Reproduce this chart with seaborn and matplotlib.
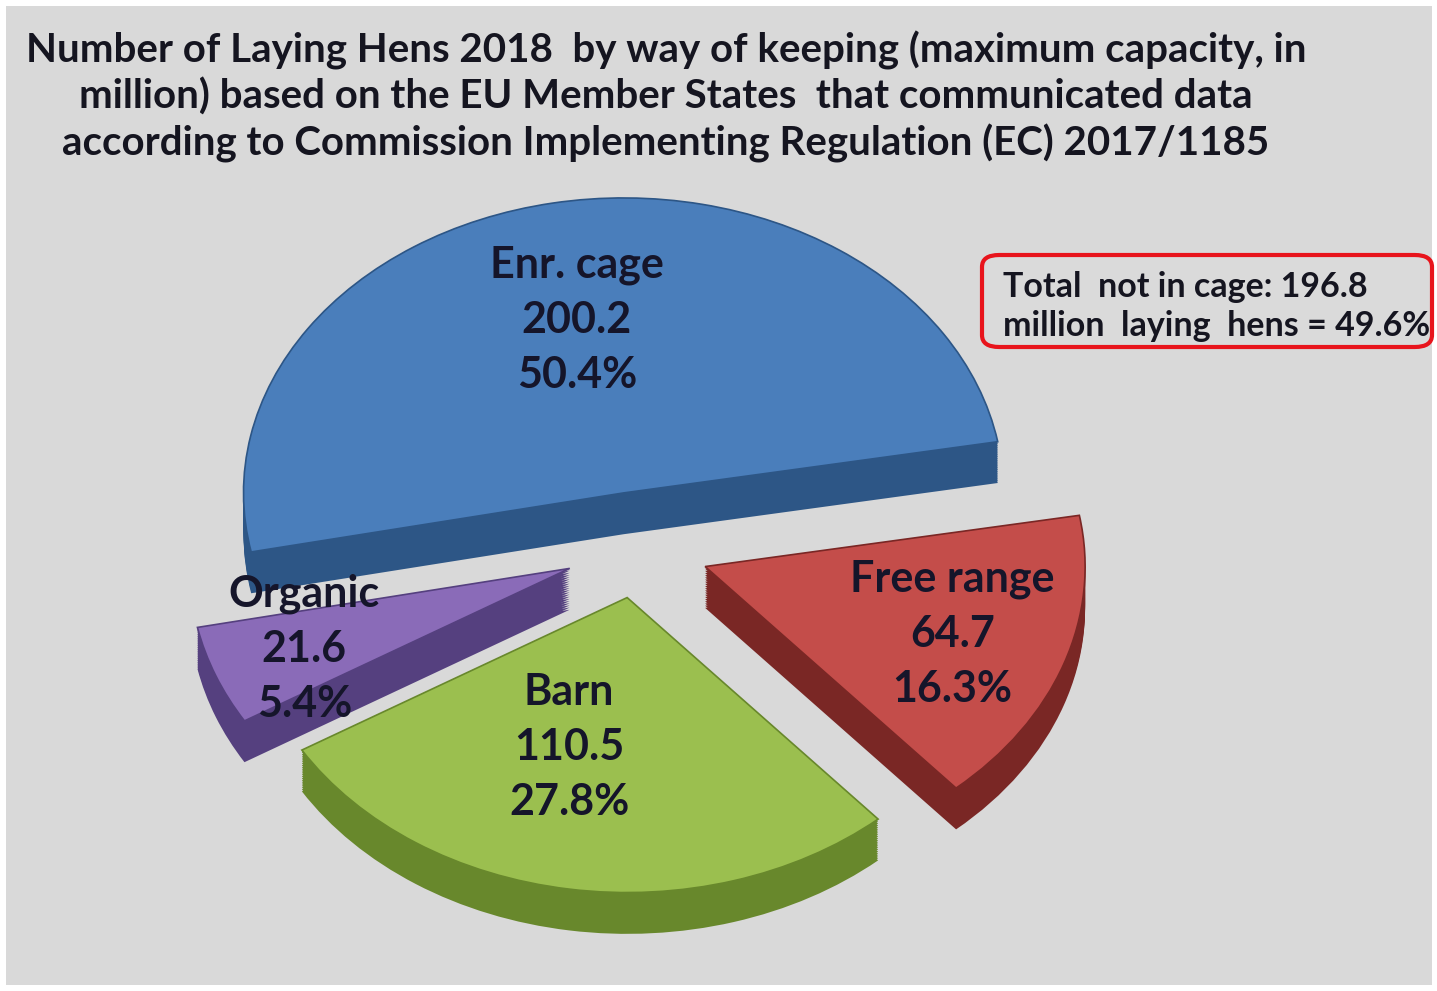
import numpy as np
import matplotlib
matplotlib.use("Agg")
import matplotlib.pyplot as plt
import seaborn as sns
from matplotlib.patches import Rectangle, FancyBboxPatch

# data (million laying hens, share of total)
categories = ["Enr. cage", "Organic", "Barn", "Free range"]
hens_million = [200.2, 21.6, 110.5, 64.7]
shares_pct = [50.4, 5.4, 27.8, 16.3]

title_lines = [
    "Number of Laying Hens 2018  by way of keeping (maximum capacity, in",
    "million) based on the EU Member States  that communicated data",
    "according to Commission Implementing Regulation (EC) 2017/1185",
]
note_lines = ["Total  not in cage: 196.8", "million  laying  hens = 49.6%"]

# styling
top_colors = ["#4a7ebb", "#8a6bb8", "#9bbf4f", "#c44d4a"]
side_colors = ["#2d5686", "#55407f", "#68882c", "#7a2725"]
explode = [0.19, 0.19, 0.17, 0.19]
label_r = [0.60, 0.75, 0.53, 0.69]
label_dtheta = [1, 0, -8, 0]

sns.set_theme(style="white")
plt.rcParams['font.family'] = ['Lato', 'DejaVu Sans']

W, H = 1437, 991
CX, CY = 637, 548  # pie centre in pixels (from top-left)
fig = plt.figure(figsize=(W / 100, H / 100), dpi=100, facecolor="white")
fig.patches.append(Rectangle((6 / W, 6 / H), 1426 / W, 979 / H, transform=fig.transFigure,
                             facecolor="#d9d9d9", edgecolor="none", zorder=-5))

ax = fig.add_axes([0, 0, 1, 1], zorder=2)
ax.set_facecolor("none")

# side of the 3d pie: stacked darker copies shifted downwards
depth = 0.14
for d in np.linspace(depth, 0.0, 20):
    ax.pie(hens_million, colors=side_colors, startangle=10, explode=explode,
           center=(0, -d), wedgeprops=dict(linewidth=0))

wedges, _ = ax.pie(hens_million, colors=top_colors, startangle=10, explode=explode,
                   wedgeprops=dict(linewidth=1.2))
for w, c in zip(wedges, side_colors):
    w.set_edgecolor(c)

for w, cat, val, pct, r, dt in zip(wedges, categories, hens_million, shares_pct,
                                   label_r, label_dtheta):
    mid = np.deg2rad((w.theta1 + w.theta2) / 2 + dt)
    cx, cy = w.center
    ax.text(cx + r * np.cos(mid), cy + r * np.sin(mid), f"{cat}\n{val}\n{pct}%",
            ha="center", va="center", fontsize=31, fontweight="bold",
            color="#15152a", linespacing=1.45)

ax.set_aspect("auto")
ax.set_xlim(-CX / 380, (W - CX) / 380)
ax.set_ylim(-(H - CY) / 295, CY / 295)
ax.axis("off")

for i, line in enumerate(title_lines):
    fig.text(666 / W, 1 - [50, 97, 143][i] / H, line, ha="center", va="center",
             fontsize=29, fontweight="bold", color="#151520")

fig.patches.append(FancyBboxPatch((982 / W, 1 - 347 / H), 450 / W, 92 / H,
                                  boxstyle="round,pad=0,rounding_size=0.012",
                                  transform=fig.transFigure, facecolor="#dadada",
                                  edgecolor="#e8141c", linewidth=3, zorder=1))
for i, line in enumerate(note_lines):
    fig.text(1003 / W, 1 - [287, 326][i] / H, line, ha="left", va="center",
             fontsize=24.5, fontweight="bold", color="#151520", zorder=3)

fig.savefig("out.png", dpi=100, facecolor="white")
